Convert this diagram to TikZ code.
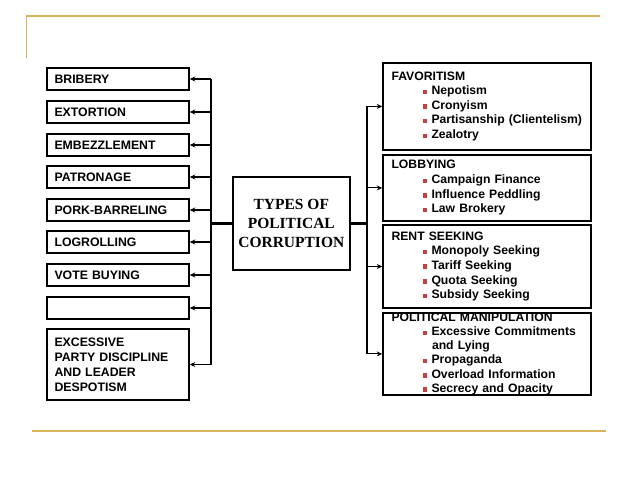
\documentclass[tikz,border=0pt]{standalone}
\usepackage{fontspec}
\setmainfont{Liberation Serif}
\setsansfont{Liberation Sans}
\usetikzlibrary{calc}
\usetikzlibrary{arrows.meta}
\definecolor{rulegold}{RGB}{214,180,92}
\definecolor{bulletred}{RGB}{196,64,64}
\newcommand{\itm}[1]{\hspace*{31pt}\mbox{\textcolor{bulletred}{\rule[0.5pt]{4pt}{4.5pt}}\hspace{5pt}#1}}
\newcommand{\cont}[1]{\hspace*{40.5pt}\mbox{#1}}

\begin{document}
\begin{tikzpicture}[x=1pt, y=-1pt,
    leftbox/.style = {draw, line width=1.5pt, minimum width=142pt, minimum height=22pt,
        inner xsep=7.5pt, inner ysep=0pt, text width=127pt, align=left,
        font=\sffamily\bfseries\fontsize{12.3}{15}\selectfont},
    rightbox/.style = {draw, line width=1.5pt, minimum width=208pt,
        inner xsep=8.5pt, inner ysep=1pt, text width=191pt, align=left,
        font=\sffamily\bfseries\fontsize{12.2}{14.6}\selectfont},
    centerbox/.style = {draw, line width=1.5pt, minimum width=117pt, minimum height=93pt,
        align=center, font=\rmfamily\bfseries\fontsize{15.5}{19}\selectfont},
    arrowline/.style = {line width=1.1pt, -{Stealth[length=5.5pt, width=5pt]}},
    busline/.style = {line width=1.3pt},
    linkline/.style = {line width=2.4pt}]

    \useasboundingbox (0,0) rectangle (638,479);

    % frame of the slide
    \draw [rulegold, line width=1.5pt] (26.7,57.7) -- (26.7,16) -- (600,16);
    \draw [rulegold, line width=1.5pt] (31.7,431) -- (606,431);

    % centre
    \node [centerbox] (types) at (291.3,223.3) {TYPES OF\\POLITICAL\\CORRUPTION};

    % left column
    \node [leftbox] (bribery) at (118,79) {BRIBERY};
    \node [leftbox] (extortion) at (118,112) {EXTORTION};
    \node [leftbox] (embezzlement) at (118,145) {EMBEZZLEMENT};
    \node [leftbox] (patronage) at (118,177) {PATRONAGE};
    \node [leftbox] (porkbarreling) at (118,210) {PORK-BARRELING};
    \node [leftbox] (logrolling) at (118,242) {LOGROLLING};
    \node [leftbox] (votebuying) at (118,275) {VOTE BUYING};
    \node [leftbox] (blank) at (118,308) {};
    \node [leftbox, minimum height=71pt] (excessive) at (118,364.5)
        {EXCESSIVE\\PARTY DISCIPLINE\\AND LEADER\\DESPOTISM};

    % right column
    \node [rightbox, minimum height=87pt] (favoritism) at (487,106.4)
        {FAVORITISM\\\itm{Nepotism}\\\itm{Cronyism}\\\itm{Partisanship (Clientelism)}\\\itm{Zealotry}};
    \node [rightbox, minimum height=66pt] (lobbying) at (487,187.9)
        {LOBBYING\\\itm{Campaign Finance}\\\itm{Influence Peddling}\\\itm{Law Brokery}};
    \node [rightbox, minimum height=83pt] (rentseeking) at (487,266.5)
        {RENT SEEKING\\\itm{Monopoly Seeking}\\\itm{Tariff Seeking}\\\itm{Quota Seeking}\\\itm{Subsidy Seeking}};
    \node [rightbox, minimum height=82pt, inner ysep=0pt,
        font=\sffamily\bfseries\fontsize{12.2}{14.2}\selectfont] (manipulation) at (487,353.9)
        {POLITICAL MANIPULATION\\\itm{Excessive Commitments}\\\cont{and Lying}\\\itm{Propaganda}\\\itm{Overload Information}\\\itm{Secrecy and Opacity}};

    % buses
    \coordinate (lbus) at (211,0);
    \coordinate (rbus) at (367,0);

    \draw [linkline] (types.west) -- (types.west -| lbus);
    \draw [linkline] (types.east) -- (types.east -| rbus);

    \draw [busline] (bribery.east -| lbus) -- (excessive.east -| lbus);
    \foreach \kind in {bribery, extortion, embezzlement, patronage, porkbarreling,
        logrolling, votebuying, blank, excessive}
        \draw [arrowline] (\kind.east -| lbus) -- (\kind.east);

    \draw [busline] (favoritism.west -| rbus) -- (manipulation.west -| rbus);
    \foreach \kind in {favoritism, lobbying, rentseeking, manipulation}
        \draw [arrowline] (\kind.west -| rbus) -- (\kind.west);
\end{tikzpicture}
\end{document}
